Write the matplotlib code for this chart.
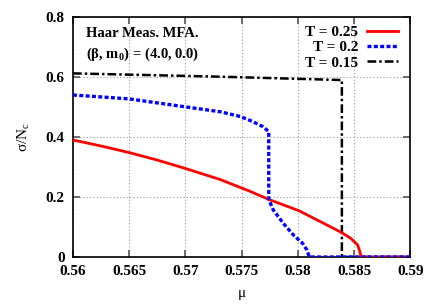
import matplotlib
matplotlib.use("Agg")
import matplotlib.pyplot as plt

# Data
mu_t025 = [0.56, 0.5625, 0.565, 0.5675, 0.57, 0.5731, 0.5758, 0.5774, 0.5801, 0.5823,
           0.5839, 0.5847, 0.5853, 0.5855, 0.5856, 0.59]
sig_t025 = [0.39, 0.370, 0.348, 0.323, 0.295, 0.258, 0.218, 0.192, 0.154, 0.112,
            0.081, 0.062, 0.04, 0.018, 0.0, 0.0]

mu_t020 = [0.56, 0.565, 0.5695, 0.5731, 0.5749, 0.576, 0.5769, 0.5774,
           0.5774, 0.5778, 0.5787, 0.5796, 0.5804, 0.5808, 0.5810, 0.59]
sig_t020 = [0.54, 0.527, 0.503, 0.484, 0.468, 0.451, 0.434, 0.418,
            0.192, 0.157, 0.112, 0.073, 0.046, 0.023, 0.0, 0.0]

mu_t015 = [0.56, 0.5731, 0.5837, 0.5839, 0.5839, 0.59]
sig_t015 = [0.612, 0.601, 0.59, 0.59, 0.0, 0.0]

labels = ["T = 0.25", "T = 0.2", "T = 0.15"]
xticks = [0.56, 0.565, 0.57, 0.575, 0.58, 0.585, 0.59]
xticklabels = ['0.56', '0.565', '0.57', '0.575', '0.58', '0.585', '0.59']
yticks = [0, 0.2, 0.4, 0.6, 0.8]
yticklabels = ['0', '0.2', '0.4', '0.6', '0.8']

plt.rcParams['font.family'] = ['Liberation Serif', 'DejaVu Serif']
plt.rcParams['mathtext.fontset'] = 'custom'
plt.rcParams['mathtext.rm'] = 'Liberation Serif'
plt.rcParams['mathtext.it'] = 'Liberation Serif:italic'
plt.rcParams['mathtext.bf'] = 'Liberation Serif:bold'

fig = plt.figure(figsize=(4.36, 3.05), dpi=100)
ax = fig.add_axes([0.1674, 0.1574, 0.9415 - 0.1674, 0.9443 - 0.1574])

ax.plot(mu_t025, sig_t025, color='#ff0000', lw=2.0, label=labels[0], zorder=3)
ax.plot(mu_t020, sig_t020, color='#0000ff', lw=2.4, linestyle=(0, (1.2, 0.7)), label=labels[1], zorder=4)
ax.plot(mu_t015, sig_t015, color='black', lw=1.8, linestyle=(0, (3.5, 1.2, 1, 1.2)), label=labels[2], zorder=2)

ax.set_xlim(0.56, 0.59)
ax.set_ylim(0, 0.8)
ax.set_xticks(xticks)
ax.set_xticklabels(xticklabels)
ax.set_yticks(yticks)
ax.set_yticklabels(yticklabels)

ax.grid(True, color='#999999', linestyle=(0, (1, 2)), lw=0.8)
ax.tick_params(direction='in', top=True, right=True, length=5, width=1.2,
               labelsize=11, pad=6, color='#555555')
for lab in ax.get_xticklabels() + ax.get_yticklabels():
    lab.set_fontweight('bold')
for s in ax.spines.values():
    s.set_linewidth(1.2)

ax.set_xlabel('μ', fontsize=11, labelpad=6)
ax.set_ylabel('σ/N$_\\mathrm{c}$', fontsize=11, labelpad=10)

ax.text(0.04, 0.93, 'Haar Meas. MFA.', transform=ax.transAxes, fontsize=10.5,
        fontweight='bold', va='center', ha='left')
ax.text(0.04, 0.845, '(β, m$_\\mathbf{0}$) = (4.0, 0.0)', transform=ax.transAxes,
        fontsize=10.5, fontweight='bold', va='center', ha='left')

leg = ax.legend(loc='upper right', bbox_to_anchor=(0.98, 0.99), frameon=False,
                markerfirst=False, handlelength=2.0, handletextpad=0.6,
                labelspacing=0.1, borderaxespad=0.0,
                prop={'family': 'Liberation Serif', 'weight': 'bold', 'size': 11})
for t in leg.get_texts():
    t.set_ha('right')

fig.savefig('out.png', dpi=100)
